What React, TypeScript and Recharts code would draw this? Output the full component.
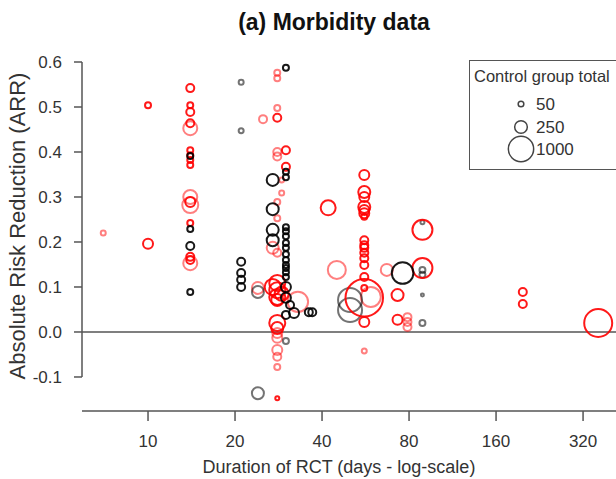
import { ScatterChart, Scatter, XAxis, YAxis, ZAxis, ReferenceLine } from 'recharts'

type Trial = { days: number; arr: number; n: number }

// solid red trials
const RED: Trial[] = [
  { days: 10, arr: 0.504, n: 56 }, { days: 10, arr: 0.196, n: 156 },
  { days: 14, arr: 0.542, n: 100 }, { days: 14, arr: 0.504, n: 56 }, { days: 14, arr: 0.489, n: 100 },
  { days: 14, arr: 0.464, n: 100 }, { days: 14, arr: 0.404, n: 56 }, { days: 14, arr: 0.393, n: 56 },
  { days: 14, arr: 0.382, n: 56 }, { days: 14, arr: 0.371, n: 56 }, { days: 14, arr: 0.289, n: 156 },
  { days: 14, arr: 0.242, n: 56 }, { days: 14, arr: 0.167, n: 100 }, { days: 14, arr: 0.16, n: 100 },
  { days: 27, arr: 0.1, n: 400 }, { days: 29, arr: 0.085, n: 306 },
  { days: 28, arr: 0.476, n: 100 }, { days: 28, arr: 0.109, n: 400 }, { days: 28, arr: 0.093, n: 400 },
  { days: 28, arr: 0.078, n: 400 }, { days: 28, arr: 0.071, n: 225 }, { days: 28, arr: 0.02, n: 400 },
  { days: 28, arr: 0.009, n: 225 }, { days: 28, arr: -0.147, n: 25 },
  { days: 30, arr: 0.404, n: 100 }, { days: 30, arr: 0.367, n: 100 },
  { days: 42, arr: 0.276, n: 350 },
  { days: 56, arr: 0.349, n: 156 }, { days: 56, arr: 0.311, n: 225 }, { days: 56, arr: 0.3, n: 156 },
  { days: 56, arr: 0.278, n: 225 }, { days: 56, arr: 0.271, n: 156 }, { days: 56, arr: 0.264, n: 156 },
  { days: 56, arr: 0.256, n: 56 }, { days: 56, arr: 0.204, n: 100 }, { days: 56, arr: 0.193, n: 100 },
  { days: 56, arr: 0.187, n: 100 }, { days: 56, arr: 0.176, n: 100 }, { days: 56, arr: 0.164, n: 100 },
  { days: 56, arr: 0.149, n: 100 }, { days: 56, arr: 0.122, n: 100 }, { days: 56, arr: 0.098, n: 56 },
  { days: 56, arr: 0.076, n: 2200 }, { days: 56, arr: 0.022, n: 156 },
  { days: 73, arr: 0.082, n: 225 }, { days: 73, arr: 0.027, n: 156 },
  { days: 89, arr: 0.227, n: 625 }, { days: 89, arr: 0.142, n: 625 },
  { days: 198, arr: 0.089, n: 100 }, { days: 198, arr: 0.062, n: 100 },
  { days: 361, arr: 0.02, n: 1225 },
]

// faint red trials
const RED_FAINT: Trial[] = [
  { days: 7, arr: 0.22, n: 39 },
  { days: 14, arr: 0.453, n: 306 }, { days: 14, arr: 0.3, n: 306 }, { days: 14, arr: 0.282, n: 400 },
  { days: 14, arr: 0.153, n: 306 },
  { days: 24, arr: 0.098, n: 225 }, { days: 25, arr: 0.473, n: 100 }, { days: 27, arr: 0.187, n: 225 },
  { days: 28, arr: 0.576, n: 56 }, { days: 28, arr: 0.564, n: 56 }, { days: 28, arr: 0.498, n: 56 },
  { days: 28, arr: 0.4, n: 100 }, { days: 28, arr: 0.39, n: 100 }, { days: 28, arr: 0.289, n: 56 },
  { days: 28, arr: 0.253, n: 56 }, { days: 28, arr: 0.176, n: 100 }, { days: 28, arr: -0.002, n: 156 },
  { days: 28, arr: -0.013, n: 156 }, { days: 28, arr: -0.04, n: 156 }, { days: 28, arr: -0.055, n: 100 },
  { days: 28, arr: -0.078, n: 56 },
  { days: 29, arr: 0.338, n: 39 }, { days: 29, arr: 0.309, n: 39 },
  { days: 33, arr: 0.067, n: 650 }, { days: 45, arr: 0.138, n: 506 }, { days: 56, arr: -0.042, n: 39 },
  { days: 59, arr: 0.078, n: 625 }, { days: 67, arr: 0.138, n: 225 },
  { days: 79, arr: 0.033, n: 100 }, { days: 79, arr: 0.022, n: 100 }, { days: 79, arr: 0.011, n: 100 },
]

// solid black trials
const BLACK: Trial[] = [
  { days: 14, arr: 0.391, n: 56 }, { days: 14, arr: 0.229, n: 56 }, { days: 14, arr: 0.191, n: 100 },
  { days: 14, arr: 0.089, n: 56 },
  { days: 21, arr: 0.156, n: 100 }, { days: 21, arr: 0.131, n: 100 }, { days: 21, arr: 0.116, n: 100 },
  { days: 21, arr: 0.1, n: 100 },
  { days: 27, arr: 0.338, n: 225 }, { days: 27, arr: 0.273, n: 225 }, { days: 27, arr: 0.227, n: 225 },
  { days: 27, arr: 0.204, n: 225 },
  { days: 30, arr: 0.587, n: 56 }, { days: 30, arr: 0.356, n: 56 }, { days: 30, arr: 0.344, n: 56 },
  { days: 30, arr: 0.233, n: 56 }, { days: 30, arr: 0.224, n: 56 }, { days: 30, arr: 0.213, n: 56 },
  { days: 30, arr: 0.198, n: 56 }, { days: 30, arr: 0.187, n: 56 }, { days: 30, arr: 0.173, n: 56 },
  { days: 30, arr: 0.16, n: 56 }, { days: 30, arr: 0.149, n: 56 }, { days: 30, arr: 0.142, n: 56 },
  { days: 30, arr: 0.133, n: 56 }, { days: 30, arr: 0.122, n: 56 }, { days: 30, arr: 0.1, n: 156 },
  { days: 30, arr: 0.076, n: 156 }, { days: 30, arr: 0.038, n: 100 },
  { days: 31, arr: 0.06, n: 100 }, { days: 32, arr: 0.042, n: 156 },
  { days: 36, arr: 0.044, n: 100 }, { days: 37, arr: 0.044, n: 100 },
  { days: 76, arr: 0.131, n: 730 },
]

// faint black (grey) trials
const BLACK_FAINT: Trial[] = [
  { days: 21, arr: 0.555, n: 39 }, { days: 21, arr: 0.447, n: 39 },
  { days: 24, arr: 0.089, n: 225 }, { days: 24, arr: -0.136, n: 225 },
  { days: 30, arr: -0.02, n: 56 },
  { days: 50, arr: 0.071, n: 900 }, { days: 50, arr: 0.049, n: 900 },
  { days: 89, arr: 0.244, n: 25 }, { days: 89, arr: 0.138, n: 56 }, { days: 89, arr: 0.127, n: 56 },
  { days: 89, arr: 0.082, n: 14 }, { days: 89, arr: 0.02, n: 56 },
]

const X_TICKS = [10, 20, 40, 80, 160, 320]
const Y_TICKS = [-0.1, 0, 0.1, 0.2, 0.3, 0.4, 0.5, 0.6]
const LEGEND_SIZES = [50, 250, 1000]

const X_DOMAIN = [5.91, 416]
const Y_DOMAIN = [-0.1756, 0.6489]

const FONT = '"Liberation Sans", Arial, Helvetica, sans-serif'
const AXIS = '#555'
const TEXT = '#333'

// circle radius = 0.4 * sqrt(n)  => symbol area = 0.16 * pi * n
const N_MAX = 2500
const AREA_MAX = 0.16 * Math.PI * N_MAX
const radiusOf = (n: number) => 0.4 * Math.sqrt(n)

function ring(color: string, opacity: number) {
  return (p: any) => (
    <circle
      cx={p.cx}
      cy={p.cy}
      r={p.width / 2}
      fill="none"
      stroke={color}
      strokeOpacity={opacity}
      strokeWidth={2}
    />
  )
}

export default function App() {
  return (
    <div
      style={{
        position: 'absolute',
        left: 0,
        top: 0,
        width: 616,
        height: 479,
        overflow: 'hidden',
        background: '#fff',
        fontFamily: FONT,
      }}
    >
      <div
        style={{
          position: 'absolute', left: 0, width: 668, top: 10, textAlign: 'center',
          fontSize: 23, lineHeight: '24px', fontWeight: 'bold', color: '#111',
        }}
      >
        (a) Morbidity data
      </div>

      <ScatterChart width={616} height={479} margin={{ top: 40, right: 0, bottom: 0, left: 0 }}>
        <XAxis
          type="number"
          dataKey="days"
          scale="log"
          domain={X_DOMAIN}
          allowDataOverflow
          ticks={X_TICKS}
          height={68}
          tickSize={10}
          tickMargin={14}
          stroke={AXIS}
          strokeWidth={1.5}
          tick={{ fill: TEXT, fontSize: 17, fontFamily: FONT }}
        />
        <YAxis
          type="number"
          dataKey="arr"
          domain={Y_DOMAIN}
          allowDataOverflow
          ticks={Y_TICKS}
          width={82}
          axisLine={false}
          tickSize={8}
          tickMargin={12}
          stroke={AXIS}
          strokeWidth={1.5}
          tickFormatter={(v: number) => v.toFixed(1)}
          tick={{ fill: TEXT, fontSize: 17, fontFamily: FONT }}
        />
        <ZAxis type="number" dataKey="n" domain={[0, N_MAX]} range={[0, AREA_MAX]} />

        <ReferenceLine
          segment={[{ x: X_DOMAIN[0], y: -0.1 }, { x: X_DOMAIN[0], y: 0.6 }]}
          stroke={AXIS}
          strokeWidth={1.5}
          ifOverflow="visible"
        />
        <ReferenceLine y={0} stroke={AXIS} strokeWidth={1.5} />

        <Scatter data={RED_FAINT} shape={ring('#ff0000', 0.5)} isAnimationActive={false} />
        <Scatter data={BLACK_FAINT} shape={ring('#000000', 0.55)} isAnimationActive={false} />
        <Scatter data={RED} shape={ring('#ff0000', 0.9)} isAnimationActive={false} />
        <Scatter data={BLACK} shape={ring('#000000', 0.9)} isAnimationActive={false} />
      </ScatterChart>

      <div
        style={{
          position: 'absolute', left: 0, width: 678, top: 457, textAlign: 'center',
          fontSize: 18, lineHeight: '20px', color: TEXT,
        }}
      >
        Duration of RCT (days - log-scale)
      </div>
      <div
        style={{
          position: 'absolute', left: 18, top: 226, transform: 'translate(-50%, -50%) rotate(-90deg)',
          whiteSpace: 'nowrap', fontSize: 22, lineHeight: '22px', color: TEXT,
        }}
      >
        Absolute Risk Reduction (ARR)
      </div>

      {/* legend: control group size */}
      <div
        style={{
          position: 'absolute', left: 469, top: 60, width: 160, height: 110,
          border: `1.5px solid ${AXIS}`, background: '#fff', boxSizing: 'border-box',
        }}
      >
        <div style={{ position: 'absolute', left: 4, top: 6, fontSize: 16.5, color: TEXT, whiteSpace: 'nowrap' }}>
          Control group total
        </div>
        <svg width={160} height={110} style={{ position: 'absolute', left: -1.5, top: -1.5 }}>
          {LEGEND_SIZES.map((n, i) => {
            const cy = [44, 67, 89][i]
            return (
              <g key={n}>
                <circle cx={52} cy={cy} r={radiusOf(n)} fill="none" stroke="#444" strokeWidth={1.5} />
                <text x={67} y={cy} dy="0.35em" fontSize={17} fill={TEXT} fontFamily={FONT}>
                  {n}
                </text>
              </g>
            )
          })}
        </svg>
      </div>
    </div>
  )
}
